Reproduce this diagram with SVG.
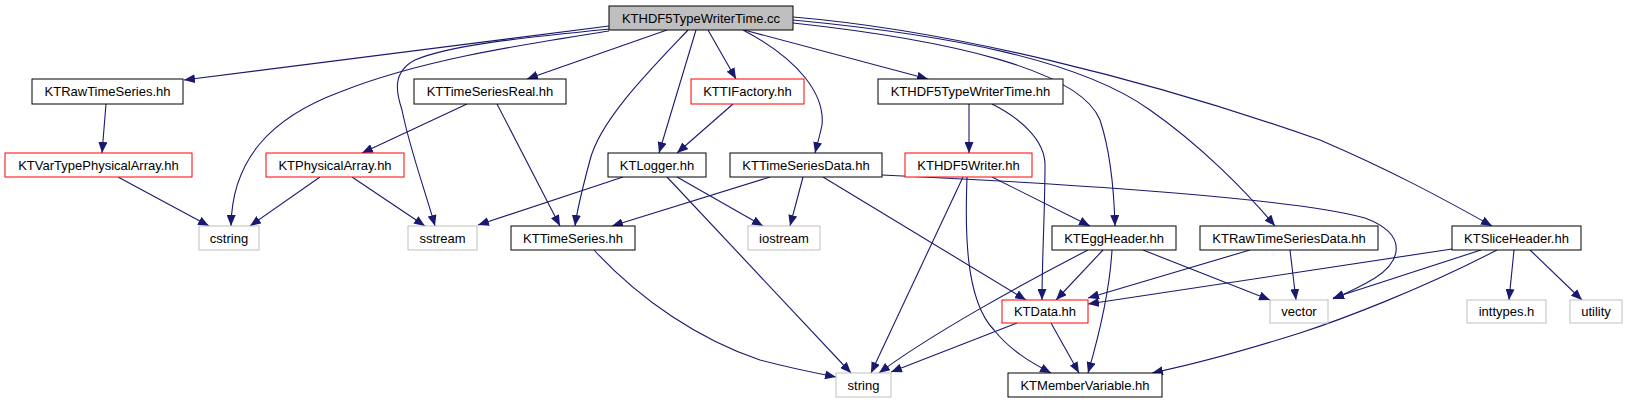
<svg xmlns="http://www.w3.org/2000/svg" width="1627" height="403" viewBox="0 0 1627 403">
<style>
.n rect{fill:#fff;stroke:#000;stroke-width:1}
.n.red rect{stroke:#ff0000}
.n.gray rect{stroke:#bfbfbf}
.n.root rect{fill:#bfbfbf}
.n text{font-family:"Liberation Sans",Arial,sans-serif;font-size:13px;text-anchor:middle;fill:#000}
#edges path{fill:none;stroke:#191970;stroke-width:1.1;marker-end:url(#ah)}
</style>
<defs>
<marker id="ah" markerUnits="userSpaceOnUse" markerWidth="11" markerHeight="9" viewBox="0 0 11 9" refX="11" refY="4.5" orient="auto">
<path d="M0,0 L11,4.5 L0,9 z" fill="#191970"/>
</marker>
</defs>
<rect width="1627" height="403" fill="#fff"/>
<g id="edges">
<path d="M609,26 L184,80"/>
<path d="M609,31 C520,45 420,60 340,92 C270,118 232,160 231,226"/>
<path d="M609,29 C520,38 450,45 415,60 C392,72 396,92 402,110 C410,150 425,190 435,226"/>
<path d="M667,30 L527,79"/>
<path d="M688,30 C650,70 600,120 590,160 C582,190 577,210 575,226"/>
<path d="M696,30 L659,153"/>
<path d="M708,30 L736,79"/>
<path d="M743,30 C800,60 825,95 822,125 C820,135 817,145 815,153"/>
<path d="M744,30 L928,79"/>
<path d="M793,23 C950,40 1080,70 1100,120 C1110,150 1114,190 1115,226"/>
<path d="M793,20 C950,35 1080,60 1150,110 C1200,145 1245,190 1275,226"/>
<path d="M793,17 C950,30 1150,80 1320,140 C1390,170 1440,197 1492,226"/>
<path d="M106,104 L102,153"/>
<path d="M467,104 L362,153"/>
<path d="M497,104 L560,226"/>
<path d="M733,104 L677,153"/>
<path d="M118,177 L209,226"/>
<path d="M320,177 L250,226"/>
<path d="M352,177 L425,226"/>
<path d="M623,177 L478,225"/>
<path d="M677,177 L763,226"/>
<path d="M667,177 L851,373"/>
<path d="M770,177 L612,226"/>
<path d="M803,177 L790,226"/>
<path d="M823,177 L1026,300"/>
<path d="M882,175 C1100,185 1300,200 1365,218 C1410,235 1400,262 1375,278 C1360,287 1345,294 1333,299"/>
<path d="M969,104 L969,153"/>
<path d="M992,104 C1020,118 1045,140 1045,165 C1045,210 1042,260 1042,300"/>
<path d="M992,177 L1090,226"/>
<path d="M963,177 L871,373"/>
<path d="M967,177 C965,230 965,300 994,330 C1010,350 1030,362 1051,373"/>
<path d="M1088,250 C1020,285 930,335 879,373"/>
<path d="M1103,250 L1056,300"/>
<path d="M1112,250 C1110,285 1102,325 1088,373"/>
<path d="M1143,250 L1270,300"/>
<path d="M1250,250 L1088,298"/>
<path d="M1290,250 L1296,300"/>
<path d="M1452,249 L1088,304"/>
<path d="M1481,250 L1333,298"/>
<path d="M1497,250 C1420,290 1340,320 1300,333 C1240,352 1190,365 1152,373"/>
<path d="M1514,250 L1509,300"/>
<path d="M1530,250 L1582,300"/>
<path d="M1017,323 L891,372"/>
<path d="M1051,323 L1079,373"/>
<path d="M594,250 C640,300 700,340 760,360 C790,368 815,373 836,377"/>
</g>
<g id="n_root" class="n root"><rect x="609" y="6" width="184" height="24"/><text x="701" y="22.5">KTHDF5TypeWriterTime.cc</text></g>
<g id="n_rawts" class="n"><rect x="32" y="79" width="151" height="25"/><text x="107.5" y="96">KTRawTimeSeries.hh</text></g>
<g id="n_tsreal" class="n"><rect x="414" y="79" width="152" height="25"/><text x="490" y="96">KTTimeSeriesReal.hh</text></g>
<g id="n_tifactory" class="n red"><rect x="691" y="79" width="113" height="25"/><text x="747.5" y="96">KTTIFactory.hh</text></g>
<g id="n_hdf5twt" class="n"><rect x="878" y="79" width="185" height="25"/><text x="970.5" y="96">KTHDF5TypeWriterTime.hh</text></g>
<g id="n_vartype" class="n red"><rect x="5" y="153" width="187" height="24"/><text x="98.5" y="169.5">KTVarTypePhysicalArray.hh</text></g>
<g id="n_physarr" class="n red"><rect x="266" y="153" width="138" height="24"/><text x="335" y="169.5">KTPhysicalArray.hh</text></g>
<g id="n_logger" class="n"><rect x="608" y="153" width="98" height="24"/><text x="657" y="169.5">KTLogger.hh</text></g>
<g id="n_tsdata" class="n"><rect x="730" y="153" width="152" height="24"/><text x="806" y="169.5">KTTimeSeriesData.hh</text></g>
<g id="n_hdf5writer" class="n red"><rect x="905" y="153" width="127" height="24"/><text x="968.5" y="169.5">KTHDF5Writer.hh</text></g>
<g id="n_cstring" class="n gray"><rect x="199" y="226" width="60" height="24"/><text x="229" y="242.5">cstring</text></g>
<g id="n_sstream" class="n gray"><rect x="408" y="226" width="69" height="24"/><text x="442.5" y="242.5">sstream</text></g>
<g id="n_ts" class="n"><rect x="511" y="226" width="124" height="24"/><text x="573" y="242.5">KTTimeSeries.hh</text></g>
<g id="n_iostream" class="n gray"><rect x="748" y="226" width="72" height="24"/><text x="784" y="242.5">iostream</text></g>
<g id="n_egg" class="n"><rect x="1052" y="226" width="124" height="24"/><text x="1114" y="242.5">KTEggHeader.hh</text></g>
<g id="n_rawtsdata" class="n"><rect x="1200" y="226" width="178" height="24"/><text x="1289" y="242.5">KTRawTimeSeriesData.hh</text></g>
<g id="n_slice" class="n"><rect x="1452" y="226" width="129" height="24"/><text x="1516.5" y="242.5">KTSliceHeader.hh</text></g>
<g id="n_data" class="n red"><rect x="1002" y="300" width="86" height="23"/><text x="1045" y="316">KTData.hh</text></g>
<g id="n_vector" class="n gray"><rect x="1270" y="300" width="58" height="23"/><text x="1299" y="316">vector</text></g>
<g id="n_inttypes" class="n gray"><rect x="1467" y="300" width="79" height="23"/><text x="1506.5" y="316">inttypes.h</text></g>
<g id="n_utility" class="n gray"><rect x="1570" y="300" width="52" height="23"/><text x="1596" y="316">utility</text></g>
<g id="n_string" class="n gray"><rect x="836" y="373" width="55" height="24"/><text x="863.5" y="389.5">string</text></g>
<g id="n_member" class="n"><rect x="1008" y="373" width="154" height="24"/><text x="1085" y="389.5">KTMemberVariable.hh</text></g>
</svg>
